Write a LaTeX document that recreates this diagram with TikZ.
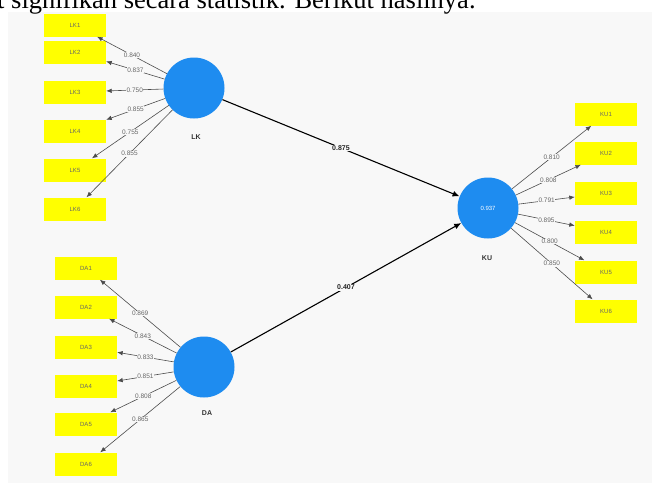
\documentclass[tikz,border=0pt]{standalone}
\usepackage{fontspec}
\setmainfont{Liberation Serif}
\newfontfamily\labfont{Liberation Sans}
\usetikzlibrary{arrows.meta}
\definecolor{bg}{RGB}{248,248,248}
\definecolor{lvblue}{RGB}{30,140,240}
\definecolor{mvyellow}{RGB}{255,255,0}
\begin{document}
\begin{tikzpicture}[x=1pt,y=-1pt,
 lvnode/.style={circle,fill=lvblue,minimum size=61pt,inner sep=0pt,font=\labfont\fontsize{6}{7}\selectfont,text=white},
 mvnode/.style={rectangle,fill=mvyellow,minimum width=62pt,minimum height=23pt,inner sep=0pt,font=\labfont\fontsize{6}{7}\selectfont,text=black!60},
 lvlabel/.style={font=\labfont\bfseries\fontsize{7}{8}\selectfont,text=black!80},
 load/.style={draw=black!70,line width=0.6pt,-{Latex[length=5.5pt,width=4.5pt]}},
 loadlab/.style={midway,fill=bg,inner sep=0.6pt,font=\labfont\fontsize{6.5}{7}\selectfont,text=black!60},
 pathline/.style={draw=black,line width=1.1pt,-{Latex[length=7pt,width=6pt]}},
 pathlab/.style={midway,fill=bg,inner sep=1pt,font=\labfont\bfseries\fontsize{7}{8}\selectfont,text=black!85}]
\useasboundingbox (0,0) rectangle (652,483);
\fill[bg] (8,12) rectangle (652,483);
\node[anchor=base west,font=\fontsize{26.5}{30}\selectfont,inner sep=0pt] (toptext) at (-3,8.5) {t signifikan secara statistik. Berikut hasilnya.};

% latent variables
\node[lvnode] (LK) at (194,88) {};
\node[lvnode] (DA) at (204,367) {};
\node[lvnode] (KU) at (488,208) {0.937};
\node[lvlabel] (LKl) at (196,137) {LK};
\node[lvlabel] (DAl) at (207,413) {DA};
\node[lvlabel] (KUl) at (487,258) {KU};

% indicators
\foreach \i/\y in {1/25,2/52,3/92,4/131,5/170,6/209}
  \node[mvnode] (LK\i) at (75,\y) {LK\i};
\foreach \i/\y in {1/268,2/307,3/347,4/386,5/424,6/464}
  \node[mvnode] (DA\i) at (86,\y) {DA\i};
\foreach \i/\y in {1/114,2/153,3/193,4/232,5/272,6/311}
  \node[mvnode] (KU\i) at (606,\y) {KU\i};

% loadings
\foreach \i/\v in {1/0.840,2/0.837,3/0.750,4/0.855,5/0.755,6/0.855}
  \draw[load] (LK) -- (LK\i) node[loadlab] {\v};
\foreach \i/\v in {1/0.869,2/0.843,3/0.833,4/0.851,5/0.808,6/0.865}
  \draw[load] (DA) -- (DA\i) node[loadlab] {\v};
\foreach \i/\v in {1/0.810,2/0.808,3/0.791,4/0.895,5/0.800,6/0.850}
  \draw[load] (KU) -- (KU\i) node[loadlab] {\v};

% paths
\draw[pathline] (LK) -- (KU) node[pathlab] {0.875};
\draw[pathline] (DA) -- (KU) node[pathlab] {0.407};
\end{tikzpicture}
\end{document}
